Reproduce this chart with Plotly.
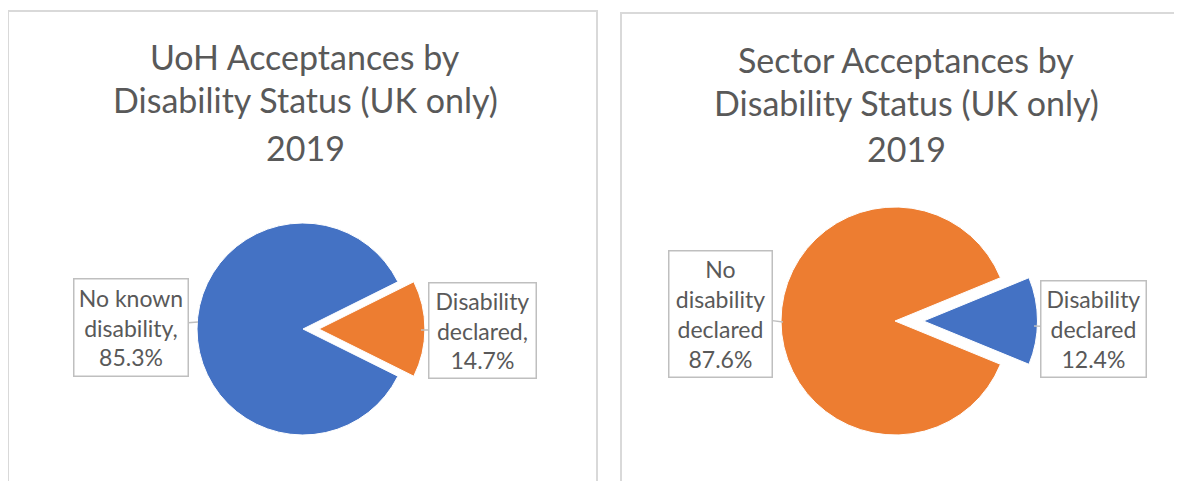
import plotly.graph_objects as go

W, H = 1182, 481
# the page body adds an 8px margin around the plot div
OFF = 8

# data
uoh_labels = ["Disability declared", "No known disability"]
uoh_values = [14.7, 85.3]
uoh_text = ["Disability<br>declared,<br>14.7%", "No known<br>disability,<br>85.3%"]

sector_labels = ["Disability declared", "No disability declared"]
sector_values = [12.4, 87.6]
sector_text = ["Disability<br>declared<br>12.4%", "No<br>disability<br>declared<br>87.6%"]

uoh_title = ["UoH Acceptances by", "Disability Status (UK only)", "2019"]
sector_title = ["Sector Acceptances by", "Disability Status (UK only)", "2019"]

BLUE = "#4472C4"
ORANGE = "#ED7D31"
GREY_TXT = "#595959"
FONT = "Lato"


def px(x):
    return (x - OFF) / W


def py(y):
    return 1 - (y - OFF) / H


def pie_domain(cx, cy, half):
    return dict(x=[px(cx - half), px(cx + half)], y=[py(cy + half), py(cy - half)])


def start_rotation(small_value):
    # centre the first (small) slice on 3 o'clock
    return 90 - small_value / 100 * 360 / 2


fig = go.Figure()

fig.add_trace(go.Pie(
    labels=uoh_labels, values=uoh_values, sort=False,
    direction="clockwise", rotation=start_rotation(uoh_values[0]),
    pull=[0.15, 0], textinfo="none", hoverinfo="label+percent",
    marker=dict(colors=[ORANGE, BLUE], line=dict(color="white", width=1)),
    domain=pie_domain(303, 329, 106 * 1.15),
    showlegend=False,
))

fig.add_trace(go.Pie(
    labels=sector_labels, values=sector_values, sort=False,
    direction="clockwise", rotation=start_rotation(sector_values[0]),
    pull=[0.25, 0], textinfo="none", hoverinfo="label+percent",
    marker=dict(colors=[BLUE, ORANGE], line=dict(color="white", width=1)),
    domain=pie_domain(895, 321, 114 * 1.25),
    showlegend=False,
))

# chart area borders
for x0, y0, x1 in [(8, 11, 597), (621, 13, 1196)]:
    fig.add_shape(type="rect", xref="paper", yref="paper",
                  x0=px(x0), x1=px(x1), y0=py(y0), y1=py(500),
                  line=dict(color="#d9d9d9", width=2))

annotations = []

# titles, one line each
for lines, cx, ys in [(uoh_title, 305, [56, 99, 147]),
                      (sector_title, 906, [59, 102, 149])]:
    for line, y in zip(lines, ys):
        annotations.append(dict(
            text=line, x=px(cx), y=py(y), xref="paper", yref="paper",
            xanchor="center", yanchor="middle", showarrow=False,
            font=dict(family=FONT, size=34, color=GREY_TXT)))

# data labels with callout boxes
label_boxes = [
    # text, tip(x,y), box centre(x,y), box w, h
    (uoh_text[1], (198, 322), (131, 327.5), 116, 99),
    (uoh_text[0], (421, 330), (482.5, 330.5), 109, 97),
    (sector_text[1], (783, 322), (720.5, 314), 105, 128),
    (sector_text[0], (1034, 326), (1093.5, 329), 107, 98),
]
for text, (tx, ty), (bx, by), bw, bh in label_boxes:
    annotations.append(dict(
        text=text, x=px(tx), y=py(ty), xref="paper", yref="paper",
        showarrow=True, arrowhead=0, arrowwidth=1.5, arrowcolor="#bfbfbf",
        ax=bx - tx, ay=by - ty, standoff=0,
        width=bw - 3, height=bh - 3, borderpad=0,
        bordercolor="#bfbfbf", borderwidth=1.5, bgcolor="white",
        align="center", valign="middle",
        font=dict(family=FONT, size=23, color=GREY_TXT)))

fig.update_layout(
    width=W, height=H,
    margin=dict(l=0, r=0, t=0, b=0),
    paper_bgcolor="white", plot_bgcolor="white",
    annotations=annotations,
)

fig.write_html("out.html")
